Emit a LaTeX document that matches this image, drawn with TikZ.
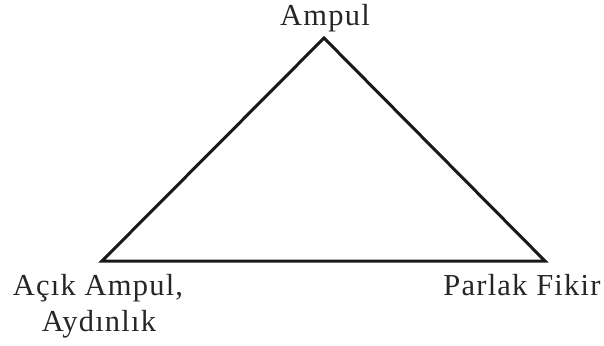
\documentclass[tikz,border=0pt]{standalone}
\usepackage{fontspec}
\setmainfont{Liberation Serif}[LetterSpace=4]
\begin{document}
\begin{tikzpicture}[x=1pt,y=-1pt,
  lbl/.style={inner sep=0pt,anchor=base,font=\fontsize{30.5}{36}\selectfont,text=black!85},
  edge/.style={line width=3pt,line join=miter,black!90}]
\useasboundingbox (0,0) rectangle (604,345);
\coordinate (top) at (324,38);
\coordinate (bl) at (102,261);
\coordinate (br) at (545,261);
\draw[edge] (top) -- (bl) -- (br) -- cycle;
\node[lbl] (t1) at (325,26) {Ampul};
\node[lbl] (t2) at (98,295) {Açık Ampul,};
\node[lbl] (t3) at (99,331) {Aydınlık};
\node[lbl] (t4) at (522,295) {Parlak Fikir};
\end{tikzpicture}
\end{document}
